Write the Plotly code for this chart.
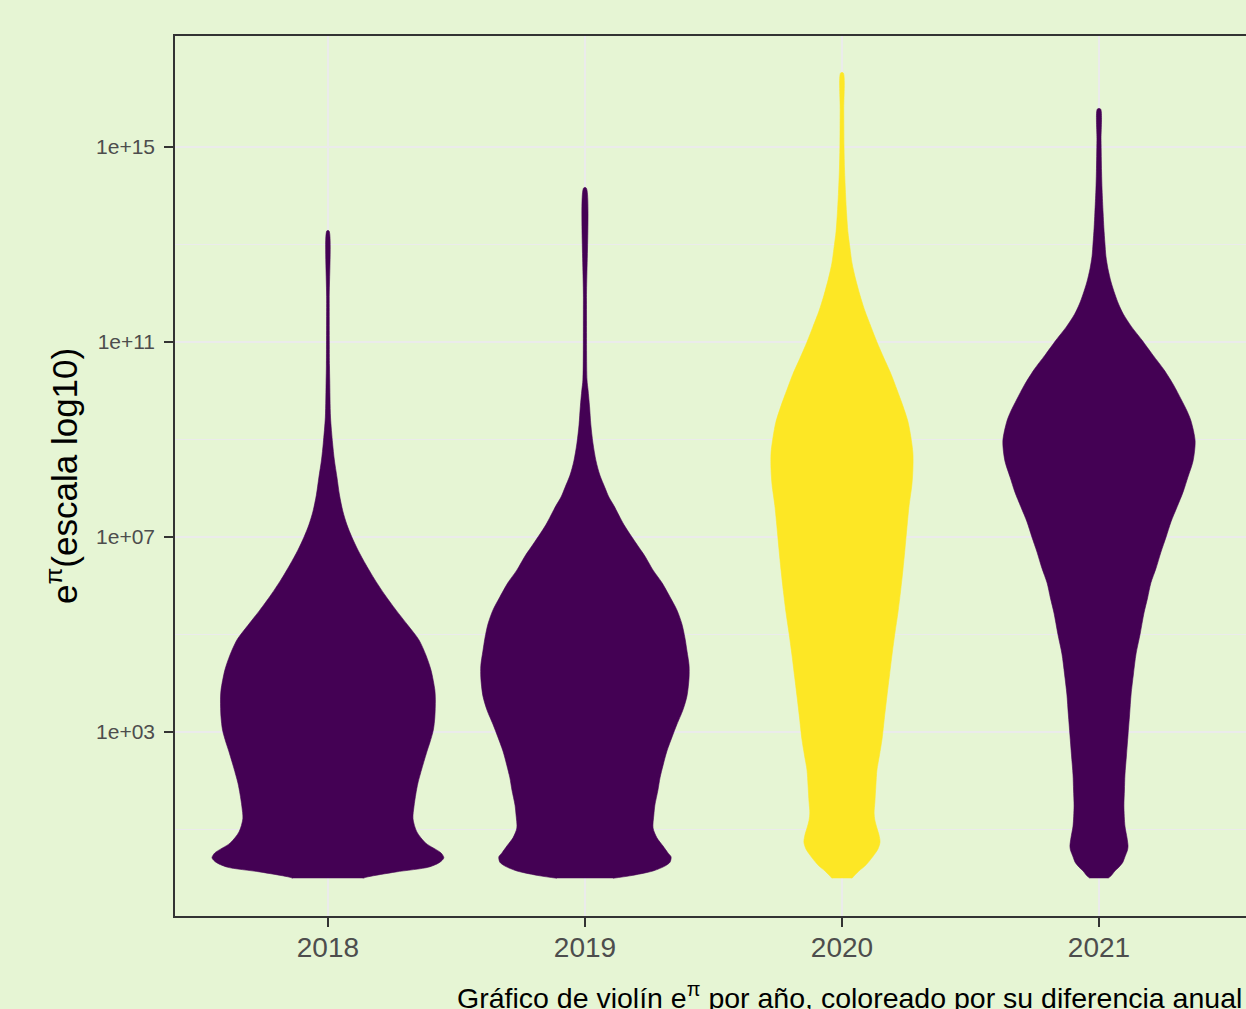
import plotly.graph_objects as go

# Categorías (años) y colores de relleno según la diferencia anual
anios = ["2018", "2019", "2020", "2021"]
colores = ["#440154", "#440154", "#FDE725", "#440154"]

# Perfil de cada violín: exponente log10 del valor (de abajo hacia arriba)
# y semiancho de la densidad en unidades de categoría
exp_2018 = [0.00, 0.03, 0.13, 0.23, 0.33, 0.42, 0.52, 0.72, 0.95, 1.22, 1.48, 1.73, 1.95,
            2.26, 2.63, 2.79, 3.04, 3.31, 3.66, 3.86, 4.27, 4.58, 4.89, 5.19, 5.50, 5.81,
            6.12, 6.43, 6.73, 7.00, 7.25, 7.53, 7.86, 8.23, 8.58, 8.93, 9.46, 10.22,
            10.51, 11.86, 13.28]
ancho_2018 = [0.136, 0.156, 0.265, 0.393, 0.436, 0.451, 0.440, 0.381, 0.346, 0.331, 0.335,
              0.342, 0.350, 0.366, 0.387, 0.397, 0.410, 0.416, 0.418, 0.416, 0.401, 0.381,
              0.354, 0.311, 0.265, 0.222, 0.183, 0.148, 0.117, 0.093, 0.074, 0.058, 0.045,
              0.035, 0.025, 0.018, 0.010, 0.007, 0.006, 0.005, 0.004]

exp_2019 = [0.00, 0.05, 0.15, 0.25, 0.33, 0.44, 0.52, 0.66, 0.83, 1.03, 1.30, 1.50, 1.81,
            2.06, 2.32, 2.61, 2.90, 3.16, 3.45, 3.74, 4.11, 4.37, 4.66, 4.93, 5.22, 5.50,
            5.77, 6.06, 6.32, 6.61, 6.88, 7.25, 7.64, 7.82, 8.01, 8.27, 8.56, 8.93, 9.30,
            9.67, 10.02, 10.22, 11.86, 14.16]
ancho_2019 = [0.109, 0.175, 0.265, 0.311, 0.331, 0.335, 0.323, 0.304, 0.280, 0.265, 0.268,
              0.272, 0.284, 0.292, 0.304, 0.319, 0.339, 0.358, 0.381, 0.397, 0.405, 0.405,
              0.397, 0.389, 0.377, 0.358, 0.331, 0.300, 0.265, 0.233, 0.198, 0.152, 0.113,
              0.093, 0.078, 0.058, 0.043, 0.031, 0.023, 0.018, 0.012, 0.008, 0.006, 0.005]

exp_2020 = [0.00, 0.07, 0.15, 0.25, 0.37, 0.48, 0.60, 0.74, 0.89, 1.03, 1.19, 1.34, 1.56,
            1.91, 2.22, 2.53, 2.86, 3.29, 3.74, 4.17, 4.60, 5.03, 5.46, 5.89, 6.32, 6.75,
            7.21, 7.64, 8.07, 8.39, 8.72, 9.05, 9.36, 9.69, 10.02, 10.34, 10.67, 11.00,
            11.31, 11.64, 11.96, 12.29, 12.62, 12.93, 13.26, 13.63, 14.02, 14.53, 15.00,
            15.76, 16.52]
ancho_2020 = [0.039, 0.051, 0.066, 0.089, 0.109, 0.125, 0.140, 0.148, 0.144, 0.136, 0.128,
              0.125, 0.128, 0.132, 0.136, 0.146, 0.156, 0.165, 0.175, 0.185, 0.195, 0.206,
              0.218, 0.228, 0.237, 0.245, 0.253, 0.261, 0.272, 0.276, 0.276, 0.268, 0.257,
              0.237, 0.214, 0.191, 0.163, 0.136, 0.113, 0.089, 0.070, 0.053, 0.039, 0.031,
              0.023, 0.018, 0.014, 0.010, 0.008, 0.007, 0.005]

exp_2021 = [0.00, 0.05, 0.15, 0.23, 0.33, 0.44, 0.58, 0.66, 0.83, 1.07, 1.48, 1.81, 2.12,
            2.53, 2.94, 3.35, 3.78, 4.19, 4.60, 5.01, 5.44, 5.75, 6.06, 6.36, 6.69, 7.00,
            7.31, 7.62, 7.92, 8.23, 8.56, 8.97, 9.38, 9.58, 9.81, 10.12, 10.43, 10.73,
            11.04, 11.31, 11.57, 11.78, 11.98, 12.23, 12.50, 12.76, 13.03, 13.34, 13.65,
            14.12, 14.49, 15.14, 15.78]
ancho_2021 = [0.035, 0.047, 0.062, 0.078, 0.093, 0.101, 0.111, 0.113, 0.109, 0.101, 0.097,
              0.099, 0.101, 0.107, 0.113, 0.119, 0.125, 0.134, 0.144, 0.160, 0.175, 0.189,
              0.202, 0.222, 0.241, 0.261, 0.280, 0.304, 0.327, 0.346, 0.366, 0.374, 0.358,
              0.343, 0.321, 0.290, 0.253, 0.210, 0.167, 0.127, 0.095, 0.076, 0.062, 0.047,
              0.035, 0.027, 0.023, 0.019, 0.016, 0.012, 0.010, 0.008, 0.006]

# Marcas del eje y
y_ticks = [1e3, 1e7, 1e11, 1e15]
y_ticktext = ["1e+03", "1e+07", "1e+11", "1e+15"]
y_minor = [1e1, 1e5, 1e9, 1e13]

perfiles = [(exp_2018, ancho_2018), (exp_2019, ancho_2019),
            (exp_2020, ancho_2020), (exp_2021, ancho_2021)]

FONDO = "#E6F5D4"
GRIS_EJE = "#333333"
GRIS_TEXTO = "#4D4D4D"
GRID = "#EBEBEB"
FUENTE = "Liberation Sans, Arial, sans-serif"

fig = go.Figure()
for i, (anio, color, (exps, anchos)) in enumerate(zip(anios, colores, perfiles)):
    valores = [10 ** e for e in exps]
    xs = [i + w for w in anchos] + [i - w for w in reversed(anchos)]
    ys = valores + list(reversed(valores))
    fig.add_trace(go.Scatter(
        x=xs, y=ys, mode="lines", fill="toself",
        fillcolor=color, line=dict(color=color, width=0.6, shape="spline", smoothing=0.8),
        name=anio, showlegend=False, hoverinfo="skip",
    ))

fig.update_layout(
    width=1246, height=1009,
    margin=dict(l=175, r=0, t=36, b=93),
    paper_bgcolor=FONDO, plot_bgcolor=FONDO,
    font=dict(family=FUENTE, color=GRIS_TEXTO),
    showlegend=False,
)

fig.update_xaxes(
    range=[-0.595, 3.572],
    tickmode="array", tickvals=[0, 1, 2, 3], ticktext=anios,
    tickfont=dict(size=28, color=GRIS_TEXTO, family=FUENTE),
    ticks="outside", ticklen=9, tickwidth=2, tickcolor=GRIS_EJE,
    ticklabelstandoff=-3,
    showgrid=True, gridcolor=GRID, gridwidth=2,
    showline=True, linecolor=GRIS_EJE, linewidth=1.5, mirror=True,
    zeroline=False,
)

fig.update_yaxes(
    type="log", range=[-0.774, 17.277],
    tickmode="array", tickvals=y_ticks, ticktext=y_ticktext,
    tickfont=dict(size=21, color=GRIS_TEXTO, family=FUENTE),
    ticks="outside", ticklen=9, tickwidth=2, tickcolor=GRIS_EJE,
    ticklabelstandoff=5,
    showgrid=True, gridcolor=GRID, gridwidth=2,
    minor=dict(tickvals=y_minor, showgrid=True, gridcolor=GRID, gridwidth=1, ticklen=0),
    showline=True, linecolor=GRIS_EJE, linewidth=1.5, mirror=False,
    zeroline=False,
)

# Títulos de los ejes
fig.add_annotation(
    text="e<sup>π</sup>(escala log10)", textangle=-90,
    xref="paper", yref="paper", x=-0.1055, y=0.5,
    xanchor="center", yanchor="middle", showarrow=False,
    font=dict(size=35, color="black", family=FUENTE),
)
fig.add_annotation(
    text="Gráfico de violín e<sup>π</sup> por año, coloreado por su diferencia anual",
    xref="paper", yref="paper", x=0.998, y=-0.0909,
    xanchor="right", yanchor="middle", showarrow=False,
    font=dict(size=28.5, color="black", family=FUENTE),
)

fig.write_html("out.html")
